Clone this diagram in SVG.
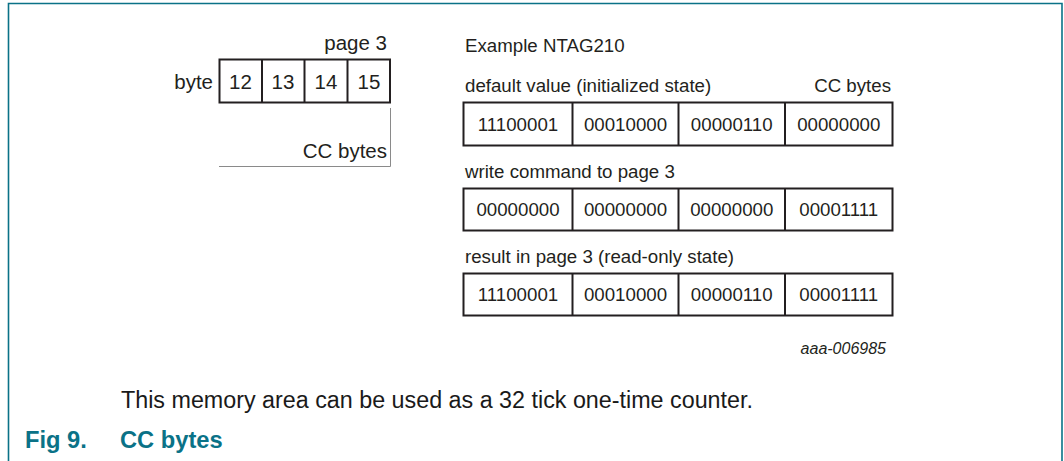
<svg xmlns="http://www.w3.org/2000/svg" width="1064" height="461" viewBox="0 0 1064 461">
<style>
.t{font-family:"Liberation Sans",Arial,sans-serif;font-size:18.7px;fill:#231f20}
.l{font-size:20.5px}
.c{text-anchor:middle}
.r{text-anchor:end}
.box{fill:#fff;stroke:#231f20;stroke-width:2}
.div{stroke:#231f20;stroke-width:2}
.br{fill:none;stroke:#8a8a8a;stroke-width:1}
.body{font-family:"Liberation Sans",Arial,sans-serif;font-size:23.3px;fill:#1a1a1a}
.cap{font-family:"Liberation Sans",Arial,sans-serif;font-size:23.7px;font-weight:bold;fill:#0a7287}
</style>
<rect width="1064" height="461" fill="#fff"/>
<path d="M8.5,461 V3.5 H1062 V461" fill="none" stroke="#0a7287" stroke-width="1.6"/>

<g id="page3">
<rect class="box" x="219.5" y="59.5" width="170.5" height="43"/>
<line class="div" x1="262" y1="59.5" x2="262" y2="102.5"/>
<line class="div" x1="304.5" y1="59.5" x2="304.5" y2="102.5"/>
<line class="div" x1="347.5" y1="59.5" x2="347.5" y2="102.5"/>
<text class="t l c" x="240.5" y="88.5">12</text>
<text class="t l c" x="283" y="88.5">13</text>
<text class="t l c" x="326" y="88.5">14</text>
<text class="t l c" x="369" y="88.5">15</text>
<text class="t l r" x="213" y="88.5">byte</text>
<text class="t l r" x="387" y="50">page 3</text>
<path class="br" d="M390.5,108 V166.5 H219"/>
<text class="t l r" x="387" y="158">CC bytes</text>
</g>

<text class="t" x="465" y="52">Example NTAG210</text>

<g id="row-default">
<text class="t" x="465" y="92">default value (initialized state)</text>
<text class="t r" x="891" y="92">CC bytes</text>
<rect class="box" x="463.5" y="102.5" width="429" height="43"/>
<line class="div" x1="572.5" y1="102.5" x2="572.5" y2="145.5"/>
<line class="div" x1="678.5" y1="102.5" x2="678.5" y2="145.5"/>
<line class="div" x1="785" y1="102.5" x2="785" y2="145.5"/>
<text class="t c" x="518" y="131">11100001</text>
<text class="t c" x="625.5" y="131">00010000</text>
<text class="t c" x="731.75" y="131">00000110</text>
<text class="t c" x="838.75" y="131">00000000</text>
</g>

<g id="row-write">
<text class="t" x="465" y="178">write command to page 3</text>
<rect class="box" x="463.5" y="188.5" width="429" height="42"/>
<line class="div" x1="572.5" y1="188.5" x2="572.5" y2="230.5"/>
<line class="div" x1="678.5" y1="188.5" x2="678.5" y2="230.5"/>
<line class="div" x1="785" y1="188.5" x2="785" y2="230.5"/>
<text class="t c" x="518" y="216">00000000</text>
<text class="t c" x="625.5" y="216">00000000</text>
<text class="t c" x="731.75" y="216">00000000</text>
<text class="t c" x="838.75" y="216">00001111</text>
</g>

<g id="row-result">
<text class="t" x="465" y="263">result in page 3 (read-only state)</text>
<rect class="box" x="463.5" y="273.5" width="429" height="42"/>
<line class="div" x1="572.5" y1="273.5" x2="572.5" y2="315.5"/>
<line class="div" x1="678.5" y1="273.5" x2="678.5" y2="315.5"/>
<line class="div" x1="785" y1="273.5" x2="785" y2="315.5"/>
<text class="t c" x="518" y="301">11100001</text>
<text class="t c" x="625.5" y="301">00010000</text>
<text class="t c" x="731.75" y="301">00000110</text>
<text class="t c" x="838.75" y="301">00001111</text>
</g>

<g id="connectors"></g>

<text class="t r" x="886" y="354" style="font-size:16px;font-style:italic">aaa-006985</text>
<text class="body" x="121" y="408">This memory area can be used as a 32 tick one-time counter.</text>
<text class="cap" x="25" y="448">Fig 9.</text>
<text class="cap" x="120" y="448">CC bytes</text>
</svg>
